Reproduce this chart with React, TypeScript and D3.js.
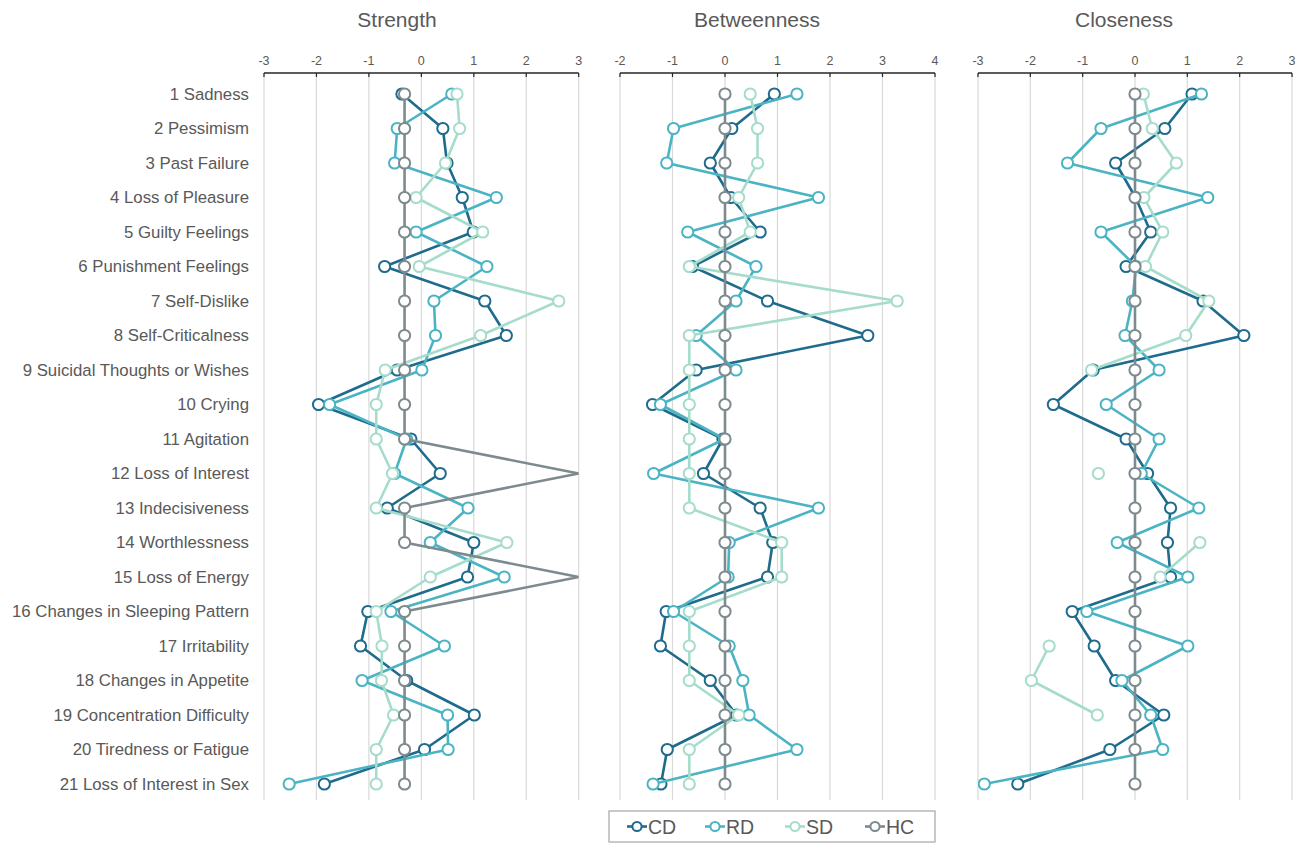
import React from "react";
import * as d3 from "d3";

const items = [
  "1 Sadness", "2 Pessimism", "3 Past Failure", "4 Loss of Pleasure", "5 Guilty Feelings",
  "6 Punishment Feelings", "7 Self-Dislike", "8 Self-Criticalness", "9 Suicidal Thoughts or Wishes",
  "10 Crying", "11 Agitation", "12 Loss of Interest", "13 Indecisiveness", "14 Worthlessness",
  "15 Loss of Energy", "16 Changes in Sleeping Pattern", "17 Irritability", "18 Changes in Appetite",
  "19 Concentration Difficulty", "20 Tiredness or Fatigue", "21 Loss of Interest in Sex",
];

const groups = ["CD", "RD", "SD", "HC"];

// Strength
const strengthCD = [-0.37, 0.41, 0.49, 0.78, 0.99, -0.7, 1.21, 1.62, -0.46, -1.96, -0.2, 0.36, -0.65, 1.0, 0.88, -1.02, -1.16, -0.28, 1.01, 0.06, -1.85];
const strengthRD = [0.58, -0.46, -0.51, 1.43, -0.1, 1.25, 0.24, 0.27, 0.01, -1.75, -0.28, -0.51, 0.89, 0.17, 1.58, -0.58, 0.44, -1.13, 0.5, 0.51, -2.52];
const strengthSD = [0.68, 0.73, 0.46, -0.1, 1.17, -0.04, 2.62, 1.13, -0.69, -0.86, -0.86, -0.55, -0.86, 1.63, 0.17, -0.86, -0.75, -0.76, -0.53, -0.86, -0.86];
const strengthHC = [-0.32, -0.32, -0.32, -0.32, -0.32, -0.32, -0.32, -0.32, -0.32, -0.32, -0.32, 3, -0.32, -0.32, 3, -0.32, -0.32, -0.32, -0.32, -0.32, -0.32];

// Betweenness
const betweenCD = [0.94, 0.13, -0.28, 0.11, 0.67, -0.62, 0.81, 2.72, -0.55, -1.38, -0.04, -0.41, 0.67, 0.91, 0.81, -1.12, -1.23, -0.28, 0.22, -1.1, -1.22];
const betweenRD = [1.37, -0.98, -1.11, 1.78, -0.71, 0.59, 0.21, -0.55, 0.21, -1.23, -0.01, -1.36, 1.78, 0.08, 0.06, -0.98, 0.08, 0.34, 0.46, 1.37, -1.37];
const betweenSD = [0.48, 0.62, 0.62, 0.26, 0.48, -0.68, 3.28, -0.68, -0.68, -0.68, -0.68, -0.68, -0.68, 1.08, 1.08, -0.68, -0.68, -0.68, 0.26, -0.68, -0.68];
const betweenHC = [0, 0, 0, 0, 0, 0, 0, 0, 0, 0, 0, 0, 0, 0, 0, 0, 0, 0, 0, 0, 0];

// Closeness
const closeCD = [1.09, 0.57, -0.37, 0.01, 0.3, -0.17, 1.3, 2.08, -0.8, -1.56, -0.17, 0.24, 0.68, 0.62, 0.68, -1.2, -0.78, -0.37, 0.55, -0.48, -2.24];
const closeRD = [1.27, -0.65, -1.29, 1.39, -0.65, 0.02, -0.05, -0.19, 0.46, -0.55, 0.46, 0.12, 1.22, -0.34, 1.01, -0.92, 1.01, -0.25, 0.3, 0.53, -2.88];
const closeSD: (number | null)[] = [0.16, 0.33, 0.79, 0.17, 0.53, 0.2, 1.41, 0.97, -0.83, null, null, -0.7, null, 1.24, 0.48, null, -1.64, -1.98, -0.72, null, null];
const closeHC = [0, 0, 0, 0, 0, 0, 0, 0, 0, 0, 0, 0, 0, 0, 0, 0, 0, 0, 0, 0, 0];

const strengthTicks = [-3, -2, -1, 0, 1, 2, 3];
const betweenTicks = [-2, -1, 0, 1, 2, 3, 4];
const closeTicks = [-3, -2, -1, 0, 1, 2, 3];

const colors: Record<string, string> = {
  CD: "#1f6b8c",
  RD: "#4bb4c4",
  SD: "#a6dccb",
  HC: "#7d8a8e",
};

const panels = [
  { title: "Strength", ticks: strengthTicks, series: [strengthCD, strengthRD, strengthSD, strengthHC], x0: 264, x1: 578.7, titleX: 397 },
  { title: "Betweenness", ticks: betweenTicks, series: [betweenCD, betweenRD, betweenSD, betweenHC], x0: 620, x1: 935, titleX: 757 },
  { title: "Closeness", ticks: closeTicks, series: [closeCD, closeRD, closeSD, closeHC], x0: 978, x1: 1292, titleX: 1124 },
];

const FONT = "Liberation Sans, Arial, sans-serif";
const TEXT = "#595959";

export default function App() {
  const y = d3.scalePoint<string>().domain(items).range([94, 784]);
  const axisY = 73;
  const gridBottom = 800;

  return (
    <svg
      width={1306}
      height={843}
      style={{ position: "absolute", left: 0, top: 0, background: "#fff" }}
      fontFamily={FONT}
    >
      <defs>
        {panels.map((p, i) => (
          <clipPath id={`clip${i}`} key={i}>
            <rect x={p.x0} y={axisY} width={p.x1 - p.x0} height={gridBottom - axisY} />
          </clipPath>
        ))}
      </defs>

      {/* row labels */}
      {items.map((it) => (
        <text key={it} x={249} y={y(it)!} dy="0.35em" textAnchor="end" fontSize={16.8} fill={TEXT}>
          {it}
        </text>
      ))}

      {panels.map((p, pi) => {
        const ext = d3.extent(p.ticks) as [number, number];
        const x = d3.scaleLinear().domain(ext).range([p.x0, p.x1]);
        const line = d3
          .line<number | null>()
          .defined((d) => d != null)
          .x((d) => x(d as number))
          .y((_, i) => y(items[i])!);
        return (
          <g key={p.title}>
            <text x={p.titleX} y={27} textAnchor="middle" fontSize={21} fill={TEXT}>
              {p.title}
            </text>
            {p.ticks.map((t) => (
              <line key={`g${t}`} x1={x(t)} x2={x(t)} y1={axisY} y2={gridBottom} stroke="#d9d9d9" strokeWidth={1.2} />
            ))}
            <line x1={p.x0} x2={p.x1} y1={axisY} y2={axisY} stroke="#262626" strokeWidth={1.5} />
            {p.ticks.map((t) => (
              <g key={`t${t}`}>
                <line x1={x(t)} x2={x(t)} y1={axisY} y2={axisY + 4} stroke="#262626" strokeWidth={1.2} />
                <text x={x(t)} y={axisY - 8} textAnchor="middle" fontSize={12.5} fill={TEXT}>
                  {t}
                </text>
              </g>
            ))}
            <g clipPath={`url(#clip${pi})`}>
              {p.series.map((s, si) => {
                const c = colors[groups[si]];
                return (
                  <g key={si}>
                    <path d={line(s as (number | null)[]) || ""} fill="none" stroke={c} strokeWidth={2.6} strokeLinejoin="round" />
                    {(s as (number | null)[]).map((v, i) =>
                      v == null || v >= ext[1] ? null : (
                        <circle key={i} cx={x(v)} cy={y(items[i])!} r={5.6} fill="#fff" stroke={c} strokeWidth={2} />
                      )
                    )}
                  </g>
                );
              })}
            </g>
          </g>
        );
      })}

      {/* legend */}
      <g>
        <rect x={609} y={811} width={326} height={31} fill="#fff" stroke="#a6a6a6" strokeWidth={1.2} />
        {groups.map((g, i) => {
          const lx = [627, 705, 785, 865][i];
          const c = colors[g];
          return (
            <g key={g}>
              <line x1={lx} x2={lx + 20} y1={826.5} y2={826.5} stroke={c} strokeWidth={2.6} />
              <circle cx={lx + 10} cy={826.5} r={4.6} fill="#fff" stroke={c} strokeWidth={2} />
              <text x={lx + 21} y={826.5} dy="0.36em" fontSize={19.5} fill={TEXT}>
                {g}
              </text>
            </g>
          );
        })}
      </g>
    </svg>
  );
}
